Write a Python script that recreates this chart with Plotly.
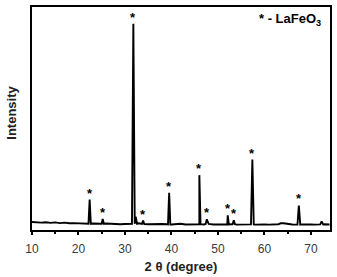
import plotly.graph_objects as go

# baseline intensity at integer 2-theta values 10..74
bg_x = list(range(10, 75))
bg_y = [36, 34, 33, 35, 32, 34, 31, 33, 30, 31, 29, 30, 28, 29, 27, 28, 29, 27, 28, 26,
        27, 26, 28, 30, 27, 26, 27, 25, 27, 26, 25, 26, 28, 25, 26, 24, 26, 25, 27, 25,
        26, 24, 25, 26, 24, 25, 26, 25, 24, 26, 25, 24, 25, 26, 30, 26, 25, 24, 25, 26,
        25, 24, 25, 26, 25]

# peaks: position (degree), height (a.u.), half width (degree), starred
peak_pos = [22.4, 25.2, 31.8, 32.3, 33.9, 39.5, 46.0, 47.6, 52.1, 53.4, 57.4, 63.8, 67.4, 72.3]
peak_int = [136, 50, 925, 60, 42, 167, 246, 48, 66, 44, 316, 32, 110, 38]
peak_hw = [0.25, 0.25, 0.3, 0.3, 0.25, 0.25, 0.25, 0.25, 0.25, 0.25, 0.3, 0.3, 0.3, 0.35]
starred = [True, True, True, False, True, True, True, True, True, True, True, False, True, False]

pts = list(zip(bg_x, bg_y))
for c, h, w in zip(peak_pos, peak_int, peak_hw):
    b = bg_y[bg_x.index(round(c))]
    pts += [(c - w, b), (c, h), (c + w, b)]
pts.sort()
xs = [p[0] for p in pts]
ys = [p[1] for p in pts]

fig = go.Figure()
fig.add_trace(go.Scatter(x=xs, y=ys, mode="lines",
                         line=dict(color="black", width=1.9), showlegend=False))

font_main = "Liberation Sans, Arial, sans-serif"
anns = []
for c, h, s in zip(peak_pos, peak_int, starred):
    if s:
        anns.append(dict(x=c, y=h, xref="x", yref="y", text="<b>*</b>", showarrow=False,
                         yanchor="bottom", yshift=-3,
                         font=dict(family=font_main, size=13, color="black")))
anns.append(dict(x=0.975, y=0.99, xref="paper", yref="paper", xanchor="right", yanchor="top",
                 text="<b>* - LaFeO<sub>3</sub></b>", showarrow=False,
                 font=dict(family=font_main, size=13, color="black")))
anns.append(dict(x=12, y=113, xref="paper", yref="paper", text="<b>Intensity</b>",
                 showarrow=False, textangle=-90, xanchor="center", yanchor="middle",
                 font=dict(family=font_main, size=13, color="#222222")))

fig.update_layout(
    width=337, height=277,
    margin=dict(l=32, r=6, t=5, b=44),
    paper_bgcolor="white", plot_bgcolor="white",
    annotations=anns,
    xaxis=dict(range=[10, 74.1], tickvals=[10, 20, 30, 40, 50, 60, 70],
               ticks="outside", ticklen=3, tickwidth=1.5, tickcolor="black",
               ticklabelstandoff=4,
               minor=dict(dtick=5, tick0=10, ticks="outside", ticklen=2, tickcolor="black"),
               showgrid=False, zeroline=False,
               showline=True, linecolor="black", linewidth=2, mirror=True,
               tickfont=dict(family=font_main, size=12, color="#3a3a3a"),
               title=dict(text="<b>2 θ (degree)</b>", standoff=6,
                          font=dict(family=font_main, size=13, color="#222222"))),
    yaxis=dict(range=[0, 1000], showticklabels=False, ticks="",
               showgrid=False, zeroline=False,
               showline=True, linecolor="black", linewidth=2, mirror=True),
)

# place the y title annotation in pixel terms
h_plot = 277 - 5 - 44
w_plot = 337 - 32 - 6
anns[-1]["x"] = (12 - 32) / w_plot
anns[-1]["y"] = (277 - 44 - 113) / h_plot
fig.update_layout(annotations=anns)

fig.write_html("out.html")
